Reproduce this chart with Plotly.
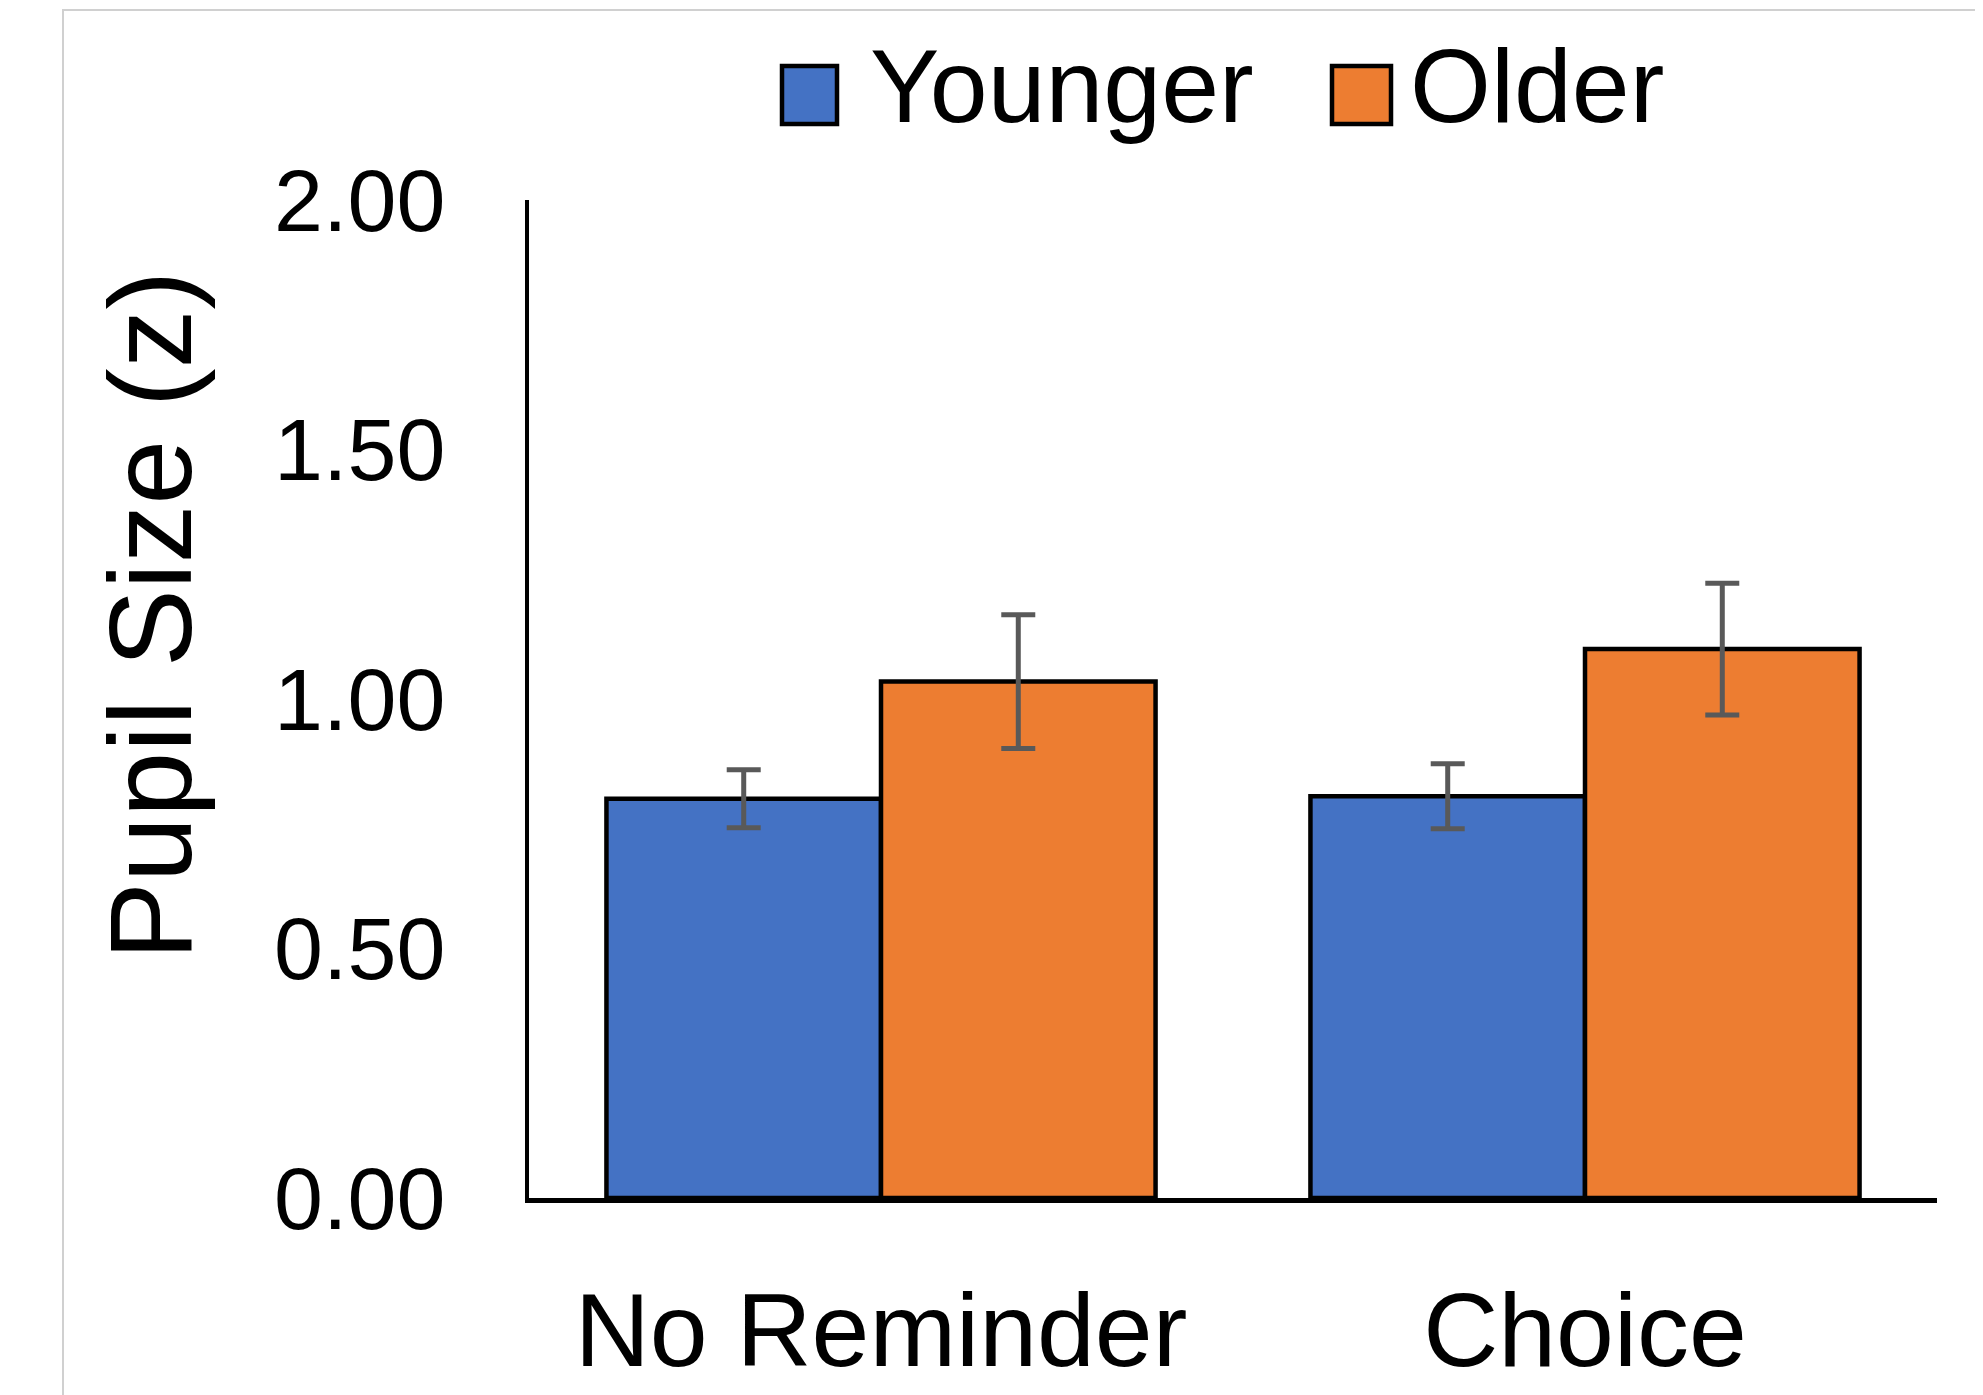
import plotly.graph_objects as go

categories = ["No Reminder", "Choice"]
younger = [0.80, 0.805]
older = [1.035, 1.10]
younger_err = [0.058, 0.065]
older_err = [0.134, 0.132]
series_names = ["Younger", "Older"]
tick_vals = [0.0, 0.5, 1.0, 1.5, 2.0]
tick_text = ["0.00", "0.50", "1.00", "1.50", "2.00"]
y_title = "Pupil Size (z)"

BLUE = "#4472C4"
ORANGE = "#ED7D31"
ERR = "#595959"
FONT = "Liberation Sans, Arial, sans-serif"

fig = go.Figure()
for name, vals, errs, col in [(series_names[0], younger, younger_err, BLUE),
                              (series_names[1], older, older_err, ORANGE)]:
    fig.add_trace(go.Bar(
        name=name, x=categories, y=vals,
        marker=dict(color=col, line=dict(color="black", width=4.5)),
        error_y=dict(type="data", array=errs, visible=True, color=ERR,
                     thickness=5, width=17),
        showlegend=False,
    ))

W, H = 1983, 1395
OFF = 8  # page body margin
L, R, T, B = 529, 46, 200, 197
pw, ph = W - L - R, H - T - B

def px(x):
    return (x - L) / pw

def py(y):
    return (H - B - y) / ph

shapes = []
annotations = []
for name, col, sx0, sx1, tx in [(series_names[0], BLUE, 782, 837, 868),
                                (series_names[1], ORANGE, 1332, 1391, 1408)]:
    shapes.append(dict(type="rect", xref="paper", yref="paper",
                       x0=px(sx0), x1=px(sx1), y0=py(124), y1=py(66),
                       fillcolor=col, line=dict(color="black", width=4.5)))
    annotations.append(dict(text=name, xref="paper", yref="paper",
                            x=px(tx), y=py(86), xanchor="left", yanchor="middle",
                            showarrow=False,
                            font=dict(family=FONT, size=104, color="black")))

shapes.append(dict(type="rect", xref="paper", yref="paper",
                   x0=px(63), x1=px(2100), y0=py(1500), y1=py(10),
                   fillcolor="rgba(0,0,0,0)", line=dict(color="#d0d0d0", width=2)))

annotations.append(dict(text=y_title, xref="paper", yref="paper",
                        x=px(150), y=py(616), xanchor="center", yanchor="middle",
                        textangle=-90, showarrow=False,
                        font=dict(family=FONT, size=117, color="black")))

fig.update_layout(
    width=W, height=H,
    margin=dict(l=L - OFF, r=R + OFF, t=T - OFF, b=B + OFF, pad=0),
    paper_bgcolor="white", plot_bgcolor="white",
    barmode="group", bargap=0.22, bargroupgap=0,
    shapes=shapes, annotations=annotations,
    showlegend=False,
    font=dict(family=FONT, color="black"),
)
fig.update_xaxes(showline=True, linecolor="black", linewidth=5, ticks="",
                 showgrid=False, automargin=False,
                 tickfont=dict(family=FONT, size=104, color="black"),
                 ticklabelstandoff=38)
fig.update_yaxes(range=[0, 2], tickvals=tick_vals, ticktext=tick_text,
                 showline=True, linecolor="black", linewidth=4, ticks="",
                 showgrid=False, zeroline=False, automargin=False,
                 tickfont=dict(family=FONT, size=88, color="black"),
                 ticklabelstandoff=62)

fig.write_html("out.html")
